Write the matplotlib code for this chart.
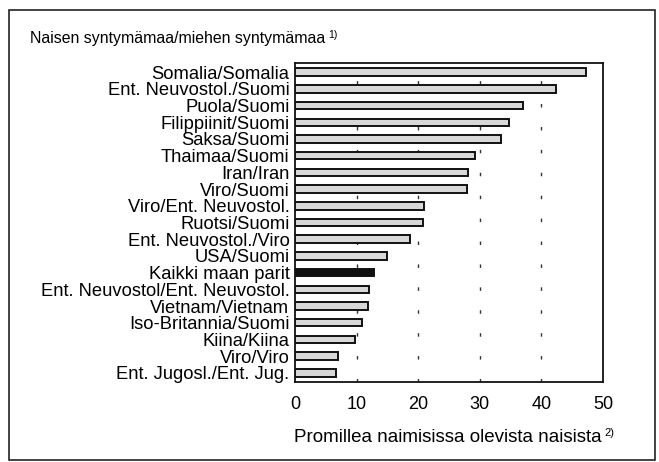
import matplotlib.pyplot as plt
import numpy as np
from matplotlib.patches import Rectangle

plt.rcParams["font.family"] = ["Liberation Sans", "DejaVu Sans"]

labels = [
    "Somalia/Somalia",
    "Ent. Neuvostol./Suomi",
    "Puola/Suomi",
    "Filippiinit/Suomi",
    "Saksa/Suomi",
    "Thaimaa/Suomi",
    "Iran/Iran",
    "Viro/Suomi",
    "Viro/Ent. Neuvostol.",
    "Ruotsi/Suomi",
    "Ent. Neuvostol./Viro",
    "USA/Suomi",
    "Kaikki maan parit",
    "Ent. Neuvostol/Ent. Neuvostol.",
    "Vietnam/Vietnam",
    "Iso-Britannia/Suomi",
    "Kiina/Kiina",
    "Viro/Viro",
    "Ent. Jugosl./Ent. Jug.",
]
values = [47.3, 42.3, 37.0, 34.8, 33.4, 29.2, 28.1, 27.9, 21.0, 20.7,
          18.7, 15.0, 12.9, 12.0, 11.8, 10.8, 9.7, 7.0, 6.6]
highlight = "Kaikki maan parit"

xticks = [0, 10, 20, 30, 40, 50]
title = "Naisen syntymämaa/miehen syntymämaa"
xlabel = "Promillea naimisissa olevista naisista"

W, H = 659, 462
fig = plt.figure(figsize=(W / 100, H / 100), dpi=100, facecolor="white")

# outer frame around the whole figure
fig.patches.append(Rectangle((9 / W, 1 - 460 / H), (655 - 9) / W, (460 - 10) / H,
                             transform=fig.transFigure, fill=False,
                             ec="#222222", lw=1.2))

ax = fig.add_axes([295 / W, 1 - 382 / H, (603 - 295) / W, (382 - 63) / H])

y = np.arange(len(labels))
colors = ["#111111" if l == highlight else "#d8d8d8" for l in labels]
ax.barh(y, values, height=0.45, color=colors, edgecolor="#111111", linewidth=1.4, zorder=3)

for xv in xticks[1:-1]:
    ax.axvline(xv, color="#333333", lw=1.0, linestyle=(0, (2.5, 14)), zorder=1)

ax.set_ylim(len(labels) - 0.45, -0.55)
ax.set_xlim(0, 50)
ax.set_yticks(y)
ax.set_yticklabels(labels, fontsize=13.2)
ax.set_xticks(xticks)
ax.set_xticklabels([str(t) for t in xticks], fontsize=13)
ax.tick_params(axis="y", length=0, pad=4)
ax.tick_params(axis="x", length=0, pad=10)
for s in ax.spines.values():
    s.set_linewidth(1.3)
    s.set_color("#111111")

t1 = fig.text(30 / W, 1 - 43 / H, title, fontsize=11.4, ha="left", va="baseline")
t2 = fig.text(448 / W, 1 - 442 / H, xlabel, fontsize=13.5, ha="center", va="baseline")

# superscripts placed just after the texts
fig.canvas.draw()
r = fig.canvas.get_renderer()
for t, s, fs in [(t1, "1)", 7.5), (t2, "2)", 8)]:
    bb = t.get_window_extent(r).transformed(fig.transFigure.inverted())
    fig.text(bb.x1 + 3 / W, bb.y1 + 1 / H, s, fontsize=fs, ha="left", va="top")

fig.savefig("out.png", dpi=100, facecolor="white")
